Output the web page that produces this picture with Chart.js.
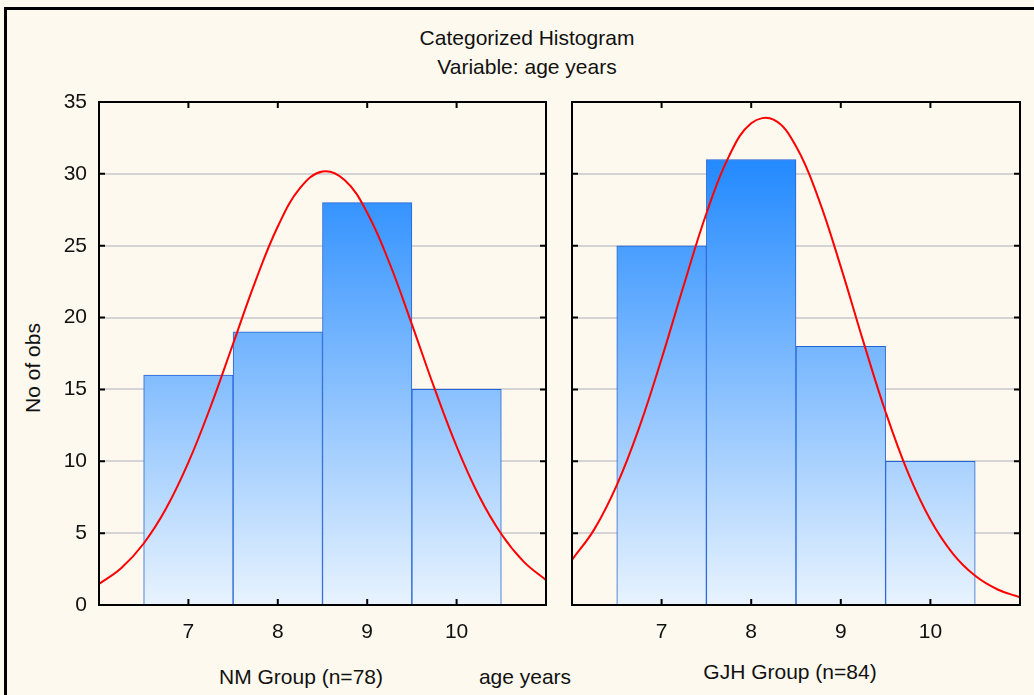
<!DOCTYPE html>
<html>
<head>
<meta charset="utf-8">
<script src="https://cdn.jsdelivr.net/npm/chart.js@4/dist/chart.umd.min.js"></script>
<style>
  body { margin: 0; background: #fef9ee; }
  #page { position: relative; width: 1034px; height: 695px; overflow: hidden; background: #fef9ee;
          font-family: "Liberation Sans", Arial, sans-serif; color: #111; }
  #frame { position: absolute; left: 4px; top: 7px; right: -10px; bottom: -10px;
           border-left: 3px solid #000; border-top: 3px solid #000; }
  .txt { position: absolute; font-size: 21px; white-space: nowrap; transform: translate(-50%, -50%); }
  canvas { position: absolute; }
</style>
</head>
<body>
<div id="page">
  <div id="frame"></div>
  <div class="txt" style="left:527px; top:38px;">Categorized Histogram</div>
  <div class="txt" style="left:527px; top:67px;">Variable: age years</div>
  <div class="txt" style="left:33px; top:368px; transform: translate(-50%, -50%) rotate(-90deg);">No of obs</div>
  <div class="txt" style="left:301px; top:677px;">NM Group (n=78)</div>
  <div class="txt" style="left:525px; top:677px;">age years</div>
  <div class="txt" style="left:790px; top:672px;">GJH Group (n=84)</div>
  <canvas id="nm" width="560" height="560" style="left:0; top:90px;"></canvas>
  <canvas id="gjh" width="474" height="560" style="left:560px; top:90px;"></canvas>
</div>
<script>
const binCenters = [7, 8, 9, 10];
const xTicks = [7, 8, 9, 10];
const nmCounts = [16, 19, 28, 15];
const gjhCounts = [25, 31, 18, 10];

// fitted normal curves, every 0.25 years
const curveX = [6, 6.25, 6.5, 6.75, 7, 7.25, 7.5, 7.75, 8, 8.25, 8.5, 8.75, 9, 9.25, 9.5, 9.75, 10, 10.25, 10.5, 10.75, 11];
const nmCurve = [1.46, 2.57, 4.28, 6.71, 9.92, 13.83, 18.18, 22.54, 26.34, 29.02, 30.16, 29.55, 27.3, 23.78, 19.53, 15.12, 11.04, 7.6, 4.94, 3.02, 1.74];
const gjhCurve = [3.14, 5.28, 8.34, 12.34, 17.13, 22.3, 27.24, 31.2, 33.52, 33.77, 31.92, 28.3, 23.53, 18.36, 13.43, 9.21, 5.93, 3.58, 2.03, 1.08, 0.54];

const barFill = (ctx) => {
  const chart = ctx.chart;
  const y = chart.scales.y;
  if (!chart.chartArea || !y) return '#7db9fc';
  const y0 = y.getPixelForValue(0);
  const y1 = y.getPixelForValue(32);
  if (!isFinite(y0) || !isFinite(y1)) return '#7db9fc';
  const g = chart.ctx.createLinearGradient(0, y0, 0, y1);
  g.addColorStop(0, 'rgb(232,243,254)');
  g.addColorStop(1, 'rgb(28,134,255)');
  return g;
};

// box round the plot area with small ticks pointing inwards
const framePlugin = {
  id: 'frame',
  afterDatasetsDraw(chart) {
    const { ctx, chartArea: a, scales } = chart;
    ctx.save();
    ctx.strokeStyle = '#000';
    ctx.lineWidth = 2;
    ctx.strokeRect(a.left, a.top, a.right - a.left, a.bottom - a.top);
    ctx.beginPath();
    scales.y.ticks.forEach(t => {
      const py = scales.y.getPixelForValue(t.value);
      ctx.moveTo(a.left, py); ctx.lineTo(a.left + 6, py);
      ctx.moveTo(a.right, py); ctx.lineTo(a.right - 6, py);
    });
    xTicks.forEach(v => {
      const px = scales.x.getPixelForValue(v);
      ctx.moveTo(px, a.top); ctx.lineTo(px, a.top + 6);
      ctx.moveTo(px, a.bottom); ctx.lineTo(px, a.bottom - 6);
    });
    ctx.stroke();
    ctx.restore();
  }
};

function makeChart(id, counts, curve, yWidth, padRight, showY) {
  return new Chart(document.getElementById(id), {
    type: 'bar',
    plugins: [framePlugin],
    data: {
      datasets: [
        {
          type: 'line',
          order: 0,
          data: curveX.map((x, i) => ({ x: x, y: curve[i] })),
          borderColor: '#ff0000',
          borderWidth: 2,
          pointRadius: 0,
          tension: 0.4,
          fill: false
        },
        {
          type: 'bar',
          order: 1,
          data: binCenters.map((x, i) => ({ x: x, y: counts[i] })),
          backgroundColor: barFill,
          borderColor: '#2463d6',
          borderWidth: 1,
          barPercentage: 1,
          categoryPercentage: 1
        }
      ]
    },
    options: {
      responsive: false,
      animation: false,
      layout: { padding: { top: 12, right: padRight, left: 0, bottom: 0 } },
      plugins: { legend: { display: false }, tooltip: { enabled: false }, title: { display: false } },
      scales: {
        x: {
          type: 'linear',
          offset: false,
          min: 6,
          max: 11,
          afterBuildTicks: (s) => { s.ticks = xTicks.map(v => ({ value: v })); },
          afterFit: (s) => { s.height = 45; s.paddingLeft = 0; s.paddingRight = 0; },
          grid: { display: false },
          border: { display: false },
          ticks: { color: '#111', padding: 7, font: { family: 'Liberation Sans, Arial', size: 21 } }
        },
        y: {
          min: 0,
          max: 35,
          afterFit: (s) => { s.width = yWidth; s.paddingTop = 0; s.paddingBottom = 0; },
          grid: { color: '#d4d4d4', lineWidth: 2, drawTicks: false },
          border: { display: false },
          ticks: { display: showY, stepSize: 5, color: '#111', padding: 12, font: { family: 'Liberation Sans, Arial', size: 21 } }
        }
      }
    }
  });
}

makeChart('nm', nmCounts, nmCurve, 99, 14, true);
makeChart('gjh', gjhCounts, gjhCurve, 12, 14, false);
</script>
</body>
</html>
